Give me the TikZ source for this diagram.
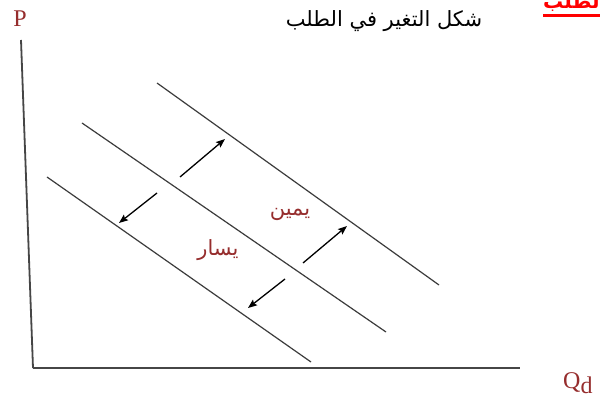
\documentclass[tikz,border=0pt]{standalone}
\usepackage{fontspec}
\usepackage{tikz}
\usetikzlibrary{arrows.meta, backgrounds}
\setmainfont{Liberation Serif}
\newfontfamily\arabicfont[Script=Arabic]{DejaVu Sans}
\TeXXeTstate=1
\definecolor{labelred}{RGB}{150,45,45}
\definecolor{axisgray}{RGB}{70,70,70}
\definecolor{linegray}{RGB}{60,60,60}

\begin{document}
\begin{tikzpicture}[x=1pt, y=-1pt, background rectangle/.style={fill=white}, show background rectangle, inner frame sep=0pt]
            \useasboundingbox (0,0) rectangle (600,398);
            % axes
            \coordinate (Ptop) at (21,40);
            \coordinate (O) at (33,368);
            \coordinate (Qend) at (520,368);
            % demand curves
            \coordinate (D1a) at (47,177);  \coordinate (D1b) at (311,362);
            \coordinate (D2a) at (82,123);  \coordinate (D2b) at (386,332);
            \coordinate (D3a) at (157,83);  \coordinate (D3b) at (439,285);
            % shift arrows
            \coordinate (R1a) at (180,177); \coordinate (R1b) at (225,139);
            \coordinate (L1a) at (157,193); \coordinate (L1b) at (119,223);
            \coordinate (R2a) at (303,263); \coordinate (R2b) at (347,226);
            \coordinate (L2a) at (285,279); \coordinate (L2b) at (248,308);

            \begin{scope}[every node/.style={inner sep=0pt}]
                \node[labelred, font=\fontsize{24}{24}\selectfont] (P) at (20,19) {P};
                \node[labelred, anchor=west, font=\fontsize{24}{24}\selectfont] (Q) at (563,383) {Q\raisebox{-5pt}{d}};
                \node[black, font=\fontsize{21}{21}\selectfont\arabicfont] (title) at (384,21) {\beginR شكل التغير في الطلب\endR};
                \node[labelred, font=\fontsize{21}{21}\selectfont\arabicfont] (right) at (290,214) {\beginR يمين\endR};
                \node[labelred, font=\fontsize{21}{21}\selectfont\arabicfont] (left) at (218,250) {\beginR يسار\endR};
                \node[red, anchor=south west, font=\fontsize{20}{20}\selectfont\bfseries\arabicfont] (corner) at (543,12) {\beginR الطلب\endR};
            \end{scope}
            \draw[red, line width=3pt] (corner.south west) ++(0,4) -- ++(70,0);

            \begin{scope}[every edge/.style={draw=axisgray, line width=1.8pt}]
                \path (Ptop) edge (O);
                \path (O) edge (Qend);
            \end{scope}
            \begin{scope}[every edge/.style={draw=linegray, line width=1.2pt}]
                \path (D1a) edge (D1b);
                \path (D2a) edge (D2b);
                \path (D3a) edge (D3b);
            \end{scope}
            \begin{scope}[>={Stealth[black, length=9pt, width=7pt, inset=1.5pt]},
                          every edge/.style={draw=black, line width=1.3pt}]
                \path[->] (R1a) edge (R1b);
                \path[->] (L1a) edge (L1b);
                \path[->] (R2a) edge (R2b);
                \path[->] (L2a) edge (L2b);
            \end{scope}
\end{tikzpicture}
\end{document}
